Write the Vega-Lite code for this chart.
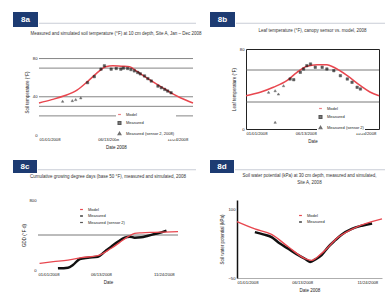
{
  "$schema": "https://vega.github.io/schema/vega-lite/v6.json",
  "padding": {"left": 13, "top": 12, "right": 0, "bottom": 0},
  "background": "white",
  "resolve": {"scale": {"stroke": "independent", "fill": "independent", "shape": "independent"}, "legend": {"stroke": "independent", "fill": "independent", "shape": "independent"}},
  "config": {
    "view": {"stroke": null},
    "font": "Liberation Sans",
    "axis": {"labelFont": "Liberation Sans", "titleFont": "Liberation Sans", "labelFontSize": 4.2, "titleFontSize": 4.5, "titleFontWeight": "normal", "labelColor": "#222", "titleColor": "#222", "grid": false, "ticks": false, "domain": false, "labelPadding": 2, "titlePadding": 3, "labelOverlap": false},
    "axisQuantitative": {"labelOverlap": false},
    "title": {"font": "Liberation Sans", "fontSize": 4.5, "fontWeight": "normal", "color": "#333"},
    "legend": {"labelFont": "Liberation Sans", "labelFontSize": 4, "labelColor": "#222", "symbolSize": 8, "rowPadding": 1.5, "padding": 1, "fillColor": "white", "labelLimit": 90, "symbolStrokeWidth": 1.2}
  },
  "datasets": {
    "a": [
      {"day": 0, "value": 33.5, "series": "Model"}, {"day": 30, "value": 37, "series": "Model"}, {"day": 60, "value": 41, "series": "Model"}, {"day": 90, "value": 47, "series": "Model"}, {"day": 115, "value": 56, "series": "Model"}, {"day": 135, "value": 64, "series": "Model"}, {"day": 147, "value": 68.5, "series": "Model"}, {"day": 158, "value": 71.5, "series": "Model"}, {"day": 175, "value": 72.5, "series": "Model"}, {"day": 195, "value": 72, "series": "Model"}, {"day": 215, "value": 71.5, "series": "Model"}, {"day": 228, "value": 68, "series": "Model"}, {"day": 241, "value": 64, "series": "Model"}, {"day": 260, "value": 58.5, "series": "Model"}, {"day": 280, "value": 53, "series": "Model"}, {"day": 297, "value": 48.5, "series": "Model"}, {"day": 313, "value": 44, "series": "Model"}, {"day": 335, "value": 39, "series": "Model"}, {"day": 365, "value": 33.5, "series": "Model"},
      {"day": 115, "value": 54.8, "series": "Measured"}, {"day": 131, "value": 61.1, "series": "Measured"}, {"day": 147, "value": 68.9, "series": "Measured"}, {"day": 155, "value": 72.4, "series": "Measured"}, {"day": 171, "value": 68.9, "series": "Measured"}, {"day": 183, "value": 69.6, "series": "Measured"}, {"day": 194, "value": 68.9, "series": "Measured"}, {"day": 200, "value": 70, "series": "Measured"}, {"day": 210, "value": 69.6, "series": "Measured"}, {"day": 218, "value": 68.5, "series": "Measured"}, {"day": 226, "value": 67.1, "series": "Measured"}, {"day": 234, "value": 65.4, "series": "Measured"}, {"day": 240, "value": 64, "series": "Measured"}, {"day": 250, "value": 61.8, "series": "Measured"}, {"day": 258, "value": 59, "series": "Measured"}, {"day": 266, "value": 56.5, "series": "Measured"}, {"day": 282, "value": 51.2, "series": "Measured"}, {"day": 290, "value": 49.5, "series": "Measured"}, {"day": 298, "value": 47.7, "series": "Measured"}, {"day": 305, "value": 46, "series": "Measured"}, {"day": 313, "value": 44.2, "series": "Measured"},
      {"day": 56, "value": 35.3, "series": "Measured (sensor 2, 2008)"}, {"day": 79, "value": 36, "series": "Measured (sensor 2, 2008)"}, {"day": 87, "value": 37.1, "series": "Measured (sensor 2, 2008)"}, {"day": 99, "value": 38.9, "series": "Measured (sensor 2, 2008)"}
    ],
    "refA": [{"value": 80}, {"value": 70}, {"value": 40}, {"value": 30}, {"value": 20}],
    "b": [
      {"day": 0, "value": 33.3, "series": "Model"}, {"day": 39, "value": 36.7, "series": "Model"}, {"day": 75, "value": 41.7, "series": "Model"}, {"day": 112, "value": 48.3, "series": "Model"}, {"day": 140, "value": 56.7, "series": "Model"}, {"day": 167, "value": 62.7, "series": "Model"}, {"day": 195, "value": 64.3, "series": "Model"}, {"day": 222, "value": 64.3, "series": "Model"}, {"day": 241, "value": 61.7, "series": "Model"}, {"day": 278, "value": 53.3, "series": "Model"}, {"day": 314, "value": 43.3, "series": "Model"}, {"day": 340, "value": 37, "series": "Model"}, {"day": 365, "value": 33.3, "series": "Model"},
      {"day": 121, "value": 50, "series": "Measured"}, {"day": 131, "value": 49.3, "series": "Measured"}, {"day": 149, "value": 56.7, "series": "Measured"}, {"day": 158, "value": 60, "series": "Measured"}, {"day": 167, "value": 63.3, "series": "Measured"}, {"day": 177, "value": 65, "series": "Measured"}, {"day": 190, "value": 61.7, "series": "Measured"}, {"day": 209, "value": 61.7, "series": "Measured"}, {"day": 222, "value": 60, "series": "Measured"}, {"day": 241, "value": 58.3, "series": "Measured"}, {"day": 259, "value": 53.3, "series": "Measured"}, {"day": 278, "value": 50, "series": "Measured"}, {"day": 291, "value": 46.7, "series": "Measured"}, {"day": 305, "value": 41.7, "series": "Measured"}, {"day": 314, "value": 40, "series": "Measured"},
      {"day": 62, "value": 36.7, "series": "Measured (sensor 2)"}, {"day": 80, "value": 38.3, "series": "Measured (sensor 2)"}, {"day": 89, "value": 35, "series": "Measured (sensor 2)"}, {"day": 103, "value": 43.3, "series": "Measured (sensor 2)"}, {"day": 80, "value": 6.7, "series": "Measured (sensor 2)"}
    ],
    "refB": [{"value": 59}, {"value": 27}],
    "c": [
      {"day": 4, "value": 76, "series": "Model"}, {"day": 40, "value": 95, "series": "Model"}, {"day": 78, "value": 114, "series": "Model"}, {"day": 113, "value": 141, "series": "Model"}, {"day": 156, "value": 164, "series": "Model"}, {"day": 191, "value": 248, "series": "Model"}, {"day": 235, "value": 381, "series": "Model"}, {"day": 252, "value": 419, "series": "Model"}, {"day": 270, "value": 425, "series": "Model"}, {"day": 295, "value": 430, "series": "Model"}, {"day": 330, "value": 434, "series": "Model"}, {"day": 365, "value": 438, "series": "Model"},
      {"day": 52, "value": 19, "series": "Measured"}, {"day": 78, "value": 27, "series": "Measured"}, {"day": 91, "value": 57, "series": "Measured"}, {"day": 109, "value": 126, "series": "Measured"}, {"day": 130, "value": 141, "series": "Measured"}, {"day": 156, "value": 152, "series": "Measured"}, {"day": 174, "value": 210, "series": "Measured"}, {"day": 191, "value": 267, "series": "Measured"}, {"day": 209, "value": 324, "series": "Measured"}, {"day": 226, "value": 370, "series": "Measured"}, {"day": 239, "value": 381, "series": "Measured"}, {"day": 252, "value": 370, "series": "Measured"}, {"day": 269, "value": 373, "series": "Measured"}, {"day": 287, "value": 392, "series": "Measured"}, {"day": 304, "value": 411, "series": "Measured"}, {"day": 322, "value": 430, "series": "Measured"}, {"day": 335, "value": 450, "series": "Measured"}
    ],
    "refC": [{"value": 400}],
    "d": [
      {"day": 0, "value": 73, "series": "Model"}, {"day": 45, "value": 57, "series": "Model"}, {"day": 87, "value": 45, "series": "Model"}, {"day": 129, "value": 18, "series": "Model"}, {"day": 171, "value": -7.7, "series": "Model"}, {"day": 188, "value": -11.5, "series": "Model"}, {"day": 213, "value": 3.6, "series": "Model"}, {"day": 255, "value": 39, "series": "Model"}, {"day": 298, "value": 60, "series": "Model"}, {"day": 365, "value": 79, "series": "Model"},
      {"day": 45, "value": 50, "series": "Measured"}, {"day": 66, "value": 45, "series": "Measured"}, {"day": 87, "value": 39, "series": "Measured"}, {"day": 108, "value": 25, "series": "Measured"}, {"day": 129, "value": 14, "series": "Measured"}, {"day": 150, "value": 2, "series": "Measured"}, {"day": 171, "value": -8, "series": "Measured"}, {"day": 184, "value": -15, "series": "Measured"}, {"day": 196, "value": -10, "series": "Measured"}, {"day": 213, "value": 0, "series": "Measured"}, {"day": 230, "value": 18, "series": "Measured"}, {"day": 247, "value": 32, "series": "Measured"}, {"day": 264, "value": 45, "series": "Measured"}, {"day": 289, "value": 57, "series": "Measured"}, {"day": 314, "value": 64, "series": "Measured"}, {"day": 340, "value": 69, "series": "Measured"}
    ],
    "labels": [{"label": "8a"}, {"label": "8b"}, {"label": "8c"}, {"label": "8d"}],
    "one": [{"k": 1}]
  },
  "vconcat": [
    {
      "spacing": 0,
      "resolve": {"scale": {"stroke": "independent", "fill": "independent", "shape": "independent"}, "legend": {"stroke": "independent", "fill": "independent", "shape": "independent"}},
      "vconcat": [
        {
          "spacing": 13,
          "hconcat": [
            {"spacing": 0, "hconcat": [
              {"data": {"name": "labels"}, "transform": [{"filter": "datum.label === '8a'"}], "width": 25, "height": 15, "view": {"fill": "#1d3b72", "stroke": null}, "mark": {"type": "text", "color": "white", "fontSize": 8, "fontWeight": "bold", "font": "Liberation Sans"}, "encoding": {"text": {"field": "label"}}},
              {"data": {"name": "one"}, "width": 157, "height": 15, "mark": {"type": "rule", "color": "#c9cdd6", "strokeWidth": 1}, "encoding": {"y": {"datum": 0.25, "type": "quantitative", "scale": {"domain": [0, 1]}, "axis": null}}}
            ]},
            {"spacing": 0, "hconcat": [
              {"data": {"name": "labels"}, "transform": [{"filter": "datum.label === '8b'"}], "width": 25, "height": 15, "view": {"fill": "#1d3b72", "stroke": null}, "mark": {"type": "text", "color": "white", "fontSize": 8, "fontWeight": "bold", "font": "Liberation Sans"}, "encoding": {"text": {"field": "label"}}},
              {"data": {"name": "one"}, "width": 152, "height": 15, "mark": {"type": "rule", "color": "#c9cdd6", "strokeWidth": 1}, "encoding": {"y": {"datum": 0.25, "type": "quantitative", "scale": {"domain": [0, 1]}, "axis": null}}}
            ]}
          ]
        },
        {
          "spacing": 0,
          "resolve": {"scale": {"stroke": "independent", "fill": "independent", "shape": "independent"}, "legend": {"stroke": "independent", "fill": "independent", "shape": "independent"}},
          "hconcat": [
            {"data": {"name": "one"}, "width": 11, "height": 10, "mark": {"type": "text", "text": ""}, "encoding": {}},
            {
              "width": 154, "height": 86,
              "title": {"text": "Measured and simulated soil temperature (°F) at 10 cm depth, Site A, Jan – Dec 2008", "offset": 14},
              "layer": [
                {"data": {"name": "refA"}, "mark": {"type": "rule", "color": "#666", "strokeWidth": 0.8}, "encoding": {"y": {"field": "value", "type": "quantitative", "scale": {"domain": [0, 90], "nice": false}, "axis": {"values": [0, 10, 20, 30, 40, 50, 60, 70, 80, 90], "title": "Soil temperature (°F)", "labelOverlap": false}}}},
                {"data": {"name": "a"}, "transform": [{"filter": "datum.series === 'Model'"}], "mark": {"type": "line", "strokeWidth": 1.5, "interpolate": "monotone"},
                 "encoding": {
                   "x": {"field": "day", "type": "quantitative", "scale": {"domain": [0, 365], "nice": false, "zero": false}, "axis": {"values": [0, 82, 164, 246, 328], "labelExpr": "timeFormat(datetime(2008, 0, 1 + datum.value), '%m/%d/%Y')", "title": "Date 2008", "labelOverlap": false}},
                   "y": {"field": "value", "type": "quantitative", "scale": {"domain": [0, 90], "nice": false}, "axis": {"values": [0, 10, 20, 30, 40, 50, 60, 70, 80, 90], "title": "Soil temperature (°F)", "labelOverlap": false}},
                   "stroke": {"field": "series", "type": "nominal", "scale": {"domain": ["Model", "Measured", "Measured (sensor 2, 2008)"], "range": ["#e8474f", "#111111", "#333333"]}, "legend": {"title": null, "orient": "none", "legendX": 77, "legendY": 62}}
                 }},
                {"data": {"name": "a"}, "transform": [{"filter": "datum.series !== 'Model'"}], "mark": {"type": "point", "filled": true, "size": 6, "strokeWidth": 0.5},
                 "encoding": {
                   "x": {"field": "day", "type": "quantitative"},
                   "y": {"field": "value", "type": "quantitative"},
                   "stroke": {"field": "series", "type": "nominal", "scale": {"domain": ["Model", "Measured", "Measured (sensor 2, 2008)"], "range": ["#e8474f", "#111111", "#333333"]}, "legend": {"title": null, "orient": "none", "legendX": 77, "legendY": 62}},
                   "fill": {"field": "series", "type": "nominal", "scale": {"domain": ["Model", "Measured", "Measured (sensor 2, 2008)"], "range": ["transparent", "#111111", "#333333"]}, "legend": {"title": null, "orient": "none", "legendX": 77, "legendY": 62}},
                   "shape": {"field": "series", "type": "nominal", "scale": {"domain": ["Model", "Measured", "Measured (sensor 2, 2008)"], "range": ["stroke", "square", "triangle-up"]}, "legend": {"title": null, "orient": "none", "legendX": 77, "legendY": 62}}
                 }}
              ]
            },
            {"data": {"name": "one"}, "width": 28, "height": 10, "mark": {"type": "text", "text": ""}, "encoding": {}},
            {
              "width": 133, "height": 80,
              "view": {"stroke": "#222", "strokeWidth": 1},
              "title": {"text": "Leaf temperature (°F), canopy sensor vs. model, 2008", "offset": 15},
              "layer": [
                {"data": {"name": "refB"}, "mark": {"type": "rule", "color": "#555", "strokeWidth": 0.8}, "encoding": {"y": {"field": "value", "type": "quantitative", "scale": {"domain": [0, 80], "nice": false}, "axis": {"values": [0, 10, 20, 30, 40, 50, 60, 70, 80], "title": "Leaf temperature (°F)", "labelOverlap": false}}}},
                {"data": {"name": "b"}, "transform": [{"filter": "datum.series === 'Model'"}], "mark": {"type": "line", "strokeWidth": 1.5, "interpolate": "monotone"},
                 "encoding": {
                   "x": {"field": "day", "type": "quantitative", "scale": {"domain": [0, 365], "nice": false, "zero": false}, "axis": {"values": [0, 82, 164, 246, 328], "labelExpr": "timeFormat(datetime(2008, 0, 1 + datum.value), '%m/%d/%Y')", "title": "Date", "labelOverlap": false}},
                   "y": {"field": "value", "type": "quantitative", "scale": {"domain": [0, 80], "nice": false}, "axis": {"values": [0, 10, 20, 30, 40, 50, 60, 70, 80], "title": "Leaf temperature (°F)", "labelOverlap": false}},
                   "stroke": {"field": "series", "type": "nominal", "scale": {"domain": ["Model", "Measured", "Measured (sensor 2)"], "range": ["#e8474f", "#111111", "#333333"]}, "legend": {"title": null, "orient": "none", "legendX": 71, "legendY": 56}}
                 }},
                {"data": {"name": "b"}, "transform": [{"filter": "datum.series !== 'Model'"}], "mark": {"type": "point", "filled": true, "size": 6, "strokeWidth": 0.5},
                 "encoding": {
                   "x": {"field": "day", "type": "quantitative"},
                   "y": {"field": "value", "type": "quantitative"},
                   "stroke": {"field": "series", "type": "nominal", "scale": {"domain": ["Model", "Measured", "Measured (sensor 2)"], "range": ["#e8474f", "#111111", "#333333"]}, "legend": {"title": null, "orient": "none", "legendX": 71, "legendY": 56}},
                   "fill": {"field": "series", "type": "nominal", "scale": {"domain": ["Model", "Measured", "Measured (sensor 2)"], "range": ["transparent", "#111111", "#333333"]}, "legend": {"title": null, "orient": "none", "legendX": 71, "legendY": 56}},
                   "shape": {"field": "series", "type": "nominal", "scale": {"domain": ["Model", "Measured", "Measured (sensor 2)"], "range": ["stroke", "square", "triangle-up"]}, "legend": {"title": null, "orient": "none", "legendX": 71, "legendY": 56}}
                 }}
              ]
            }
          ]
        }
      ]
    },
    {
      "spacing": 0,
      "resolve": {"scale": {"stroke": "independent", "fill": "independent", "shape": "independent"}, "legend": {"stroke": "independent", "fill": "independent", "shape": "independent"}},
      "vconcat": [
        {
          "spacing": 13,
          "hconcat": [
            {"spacing": 0, "hconcat": [
              {"data": {"name": "labels"}, "transform": [{"filter": "datum.label === '8c'"}], "width": 24, "height": 13, "view": {"fill": "#1d3b72", "stroke": null}, "mark": {"type": "text", "color": "white", "fontSize": 8, "fontWeight": "bold", "font": "Liberation Sans"}, "encoding": {"text": {"field": "label"}}},
              {"data": {"name": "one"}, "width": 158, "height": 13, "mark": {"type": "rule", "color": "#c9cdd6", "strokeWidth": 1}, "encoding": {"y": {"datum": 0.25, "type": "quantitative", "scale": {"domain": [0, 1]}, "axis": null}}}
            ]},
            {"spacing": 0, "hconcat": [
              {"data": {"name": "labels"}, "transform": [{"filter": "datum.label === '8d'"}], "width": 24, "height": 13, "view": {"fill": "#1d3b72", "stroke": null}, "mark": {"type": "text", "color": "white", "fontSize": 8, "fontWeight": "bold", "font": "Liberation Sans"}, "encoding": {"text": {"field": "label"}}},
              {"data": {"name": "one"}, "width": 153, "height": 13, "mark": {"type": "rule", "color": "#c9cdd6", "strokeWidth": 1}, "encoding": {"y": {"datum": 0.25, "type": "quantitative", "scale": {"domain": [0, 1]}, "axis": null}}}
            ]}
          ]
        },
        {
          "spacing": 0,
          "resolve": {"scale": {"stroke": "independent", "fill": "independent", "shape": "independent"}, "legend": {"stroke": "independent", "fill": "independent", "shape": "independent"}},
          "hconcat": [
            {"data": {"name": "one"}, "width": 8, "height": 10, "mark": {"type": "text", "text": ""}, "encoding": {}},
            {
              "width": 140, "height": 70,
              "title": {"text": "Cumulative growing degree days (base 50 °F), measured and simulated, 2008", "offset": 20},
              "layer": [
                {"data": {"name": "refC"}, "mark": {"type": "rule", "color": "#555", "strokeWidth": 0.8}, "encoding": {"y": {"field": "value", "type": "quantitative", "scale": {"domain": [0, 800], "nice": false}, "axis": {"values": [0, 100, 200, 300, 400, 500, 600, 700, 800], "title": "GDD (°F·d)", "labelOverlap": false}}}},
                {"data": {"name": "c"}, "transform": [{"filter": "datum.series === 'Measured'"}], "mark": {"type": "line", "strokeWidth": 2.5, "interpolate": "monotone"},
                 "encoding": {
                   "x": {"field": "day", "type": "quantitative", "scale": {"domain": [0, 365], "nice": false, "zero": false}, "axis": {"values": [0, 82, 164, 246, 328], "labelExpr": "timeFormat(datetime(2008, 0, 1 + datum.value), '%m/%d/%Y')", "title": "Date", "labelOverlap": false}},
                   "y": {"field": "value", "type": "quantitative", "scale": {"domain": [0, 800], "nice": false}, "axis": {"values": [0, 100, 200, 300, 400, 500, 600, 700, 800], "title": "GDD (°F·d)", "labelOverlap": false}},
                   "stroke": {"field": "series", "type": "nominal", "scale": {"domain": ["Model", "Measured", "Measured (sensor 2)"], "range": ["#e8474f", "#111111", "#555555"]}, "legend": {"title": null, "orient": "none", "legendX": 40, "legendY": 6}}
                 }},
                {"data": {"name": "c"}, "transform": [{"filter": "datum.series === 'Model'"}], "mark": {"type": "line", "strokeWidth": 1.3, "interpolate": "monotone"},
                 "encoding": {
                   "x": {"field": "day", "type": "quantitative"},
                   "y": {"field": "value", "type": "quantitative"},
                   "stroke": {"field": "series", "type": "nominal", "scale": {"domain": ["Model", "Measured", "Measured (sensor 2)"], "range": ["#e8474f", "#111111", "#555555"]}, "legend": {"title": null, "orient": "none", "legendX": 40, "legendY": 6}}
                 }}
              ]
            },
            {"data": {"name": "one"}, "width": 33, "height": 10, "mark": {"type": "text", "text": ""}, "encoding": {}},
            {
              "width": 145, "height": 78,
              "title": {"text": ["Soil water potential (kPa) at 30 cm depth, measured and simulated,", "Site A, 2008"], "offset": 16},
              "layer": [
                {"data": {"name": "d"}, "transform": [{"filter": "datum.series === 'Measured'"}], "mark": {"type": "line", "strokeWidth": 2.5, "interpolate": "monotone"},
                 "encoding": {
                   "x": {"field": "day", "type": "quantitative", "scale": {"domain": [0, 365], "nice": false, "zero": false}, "axis": {"values": [0, 82, 164, 246, 328], "labelExpr": "timeFormat(datetime(2008, 0, 1 + datum.value), '%m/%d/%Y')", "title": "Date 2008", "domain": true, "domainColor": "#999", "domainWidth": 0.8, "labelOverlap": false}},
                   "y": {"field": "value", "type": "quantitative", "scale": {"domain": [-50, 120], "nice": false}, "axis": {"values": [-50, 0, 50, 100], "title": "Soil water potential (kPa)", "domain": true, "domainColor": "#111", "domainWidth": 1.5, "labelOverlap": false}},
                   "stroke": {"field": "series", "type": "nominal", "scale": {"domain": ["Model", "Measured"], "range": ["#e8474f", "#111111"]}, "legend": {"title": null, "orient": "none", "legendX": 60, "legendY": 12}}
                 }},
                {"data": {"name": "d"}, "transform": [{"filter": "datum.series === 'Model'"}], "mark": {"type": "line", "strokeWidth": 1.4, "interpolate": "monotone"},
                 "encoding": {
                   "x": {"field": "day", "type": "quantitative"},
                   "y": {"field": "value", "type": "quantitative"},
                   "stroke": {"field": "series", "type": "nominal", "scale": {"domain": ["Model", "Measured"], "range": ["#e8474f", "#111111"]}, "legend": {"title": null, "orient": "none", "legendX": 60, "legendY": 12}}
                 }}
              ]
            }
          ]
        }
      ]
    }
  ],
  "spacing": 11
}
